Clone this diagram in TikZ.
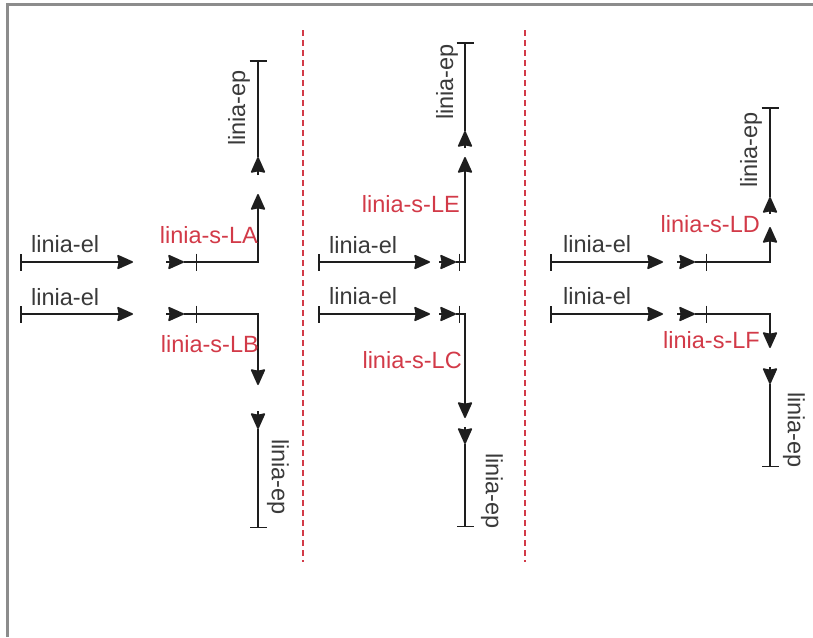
\documentclass[tikz,border=0pt]{standalone}
\usepackage{fontspec}
\setmainfont{Liberation Sans}
\usetikzlibrary{arrows.meta}
\definecolor{linec}{HTML}{1E1E1E}
\definecolor{txtc}{HTML}{3A3A3A}
\definecolor{redc}{HTML}{D23A48}
\definecolor{framec}{HTML}{8C8C8C}
\tikzset{
  cline/.style={draw=linec, line width=1.5pt},
  arrline/.style={cline, -{Stealth[length=17pt,width=15pt,inset=1.5pt,round]}},
  tickline/.style={cline, -{Bar[width=17pt]}},
  elline/.style={cline, {Bar[width=17pt]}-{Stealth[length=17pt,width=15pt,inset=1.5pt,round]}},
  lbl/.style={font=\fontsize{23.5}{27}\selectfont, text=txtc, inner sep=0pt},
  rlbl/.style={lbl, text=redc},
  sepline/.style={draw=redc, line width=1.3pt, dash pattern=on 6pt off 4pt},
  frameline/.style={draw=framec, line width=3pt}
}
\begin{document}
\begin{tikzpicture}[x=1pt,y=-1pt]
\useasboundingbox (0,0) rectangle (813,637);
\draw[frameline] (7,637) -- (7,4) -- (813,4);

% separators
\coordinate (d1a) at (303,30); \coordinate (d1b) at (303,562);
\coordinate (d2a) at (525,30); \coordinate (d2b) at (525,562);
\draw[sepline] (d1a) -- (d1b);
\draw[sepline] (d2a) -- (d2b);

% ---------- panel 1 ----------
\coordinate (p1s1) at (20,262);  \coordinate (p1e1) at (133,262);
\coordinate (p1a1) at (166,262); \coordinate (p1b1) at (184,262);
\coordinate (p1t1) at (197,262); \coordinate (p1u1) at (258,194);
\coordinate (p1q1) at (258,175); \coordinate (p1r1) at (258,157);
\coordinate (p1z1) at (258,60);
\coordinate (p1s2) at (20,314);  \coordinate (p1e2) at (133,314);
\coordinate (p1a2) at (166,314); \coordinate (p1b2) at (184,314);
\coordinate (p1t2) at (197,314); \coordinate (p1u2) at (258,385);
\coordinate (p1q2) at (258,411); \coordinate (p1r2) at (258,429);
\coordinate (p1z2) at (258,528);
\draw[elline] (p1s1) -- (p1e1);
\draw[arrline] (p1a1) -- (p1b1);
\draw[tickline] (p1b1) -- (p1t1);
\draw[arrline] (p1t1) -| (p1u1);
\draw[arrline] (p1q1) -- (p1r1);
\draw[tickline] (p1r1) -- (p1z1);
\draw[elline] (p1s2) -- (p1e2);
\draw[arrline] (p1a2) -- (p1b2);
\draw[tickline] (p1b2) -- (p1t2);
\draw[arrline] (p1t2) -| (p1u2);
\draw[arrline] (p1q2) -- (p1r2);
\draw[tickline] (p1r2) -- (p1z2);
\node[lbl,anchor=base west] (p1l1) at (31,252) {linia-el};
\node[lbl,anchor=base west] (p1l2) at (31,305) {linia-el};
\node[rlbl,anchor=base east] (p1LA) at (258,243) {linia-s-LA};
\node[rlbl,anchor=base east] (p1LB) at (259,352) {linia-s-LB};
\node[lbl,rotate=90] (p1ep1) at (239,108) {linia-ep};
\node[lbl,rotate=-90] (p1ep2) at (278,477) {linia-ep};

% ---------- panel 2 ----------
\coordinate (p2s1) at (318,262); \coordinate (p2e1) at (430,262);
\coordinate (p2a1) at (439,262); \coordinate (p2b1) at (456,262);
\coordinate (p2t1) at (460,262); \coordinate (p2u1) at (465,157);
\coordinate (p2q1) at (465,148); \coordinate (p2r1) at (465,131);
\coordinate (p2z1) at (465,42);
\coordinate (p2s2) at (318,314); \coordinate (p2e2) at (430,314);
\coordinate (p2a2) at (439,314); \coordinate (p2b2) at (456,314);
\coordinate (p2t2) at (460,314); \coordinate (p2u2) at (465,418);
\coordinate (p2q2) at (465,427); \coordinate (p2r2) at (465,444);
\coordinate (p2z2) at (465,527);
\draw[elline] (p2s1) -- (p2e1);
\draw[arrline] (p2a1) -- (p2b1);
\draw[tickline] (p2b1) -- (p2t1);
\draw[arrline] (p2t1) -| (p2u1);
\draw[arrline] (p2q1) -- (p2r1);
\draw[tickline] (p2r1) -- (p2z1);
\draw[elline] (p2s2) -- (p2e2);
\draw[arrline] (p2a2) -- (p2b2);
\draw[tickline] (p2b2) -- (p2t2);
\draw[arrline] (p2t2) -| (p2u2);
\draw[arrline] (p2q2) -- (p2r2);
\draw[tickline] (p2r2) -- (p2z2);
\node[lbl,anchor=base west] (p2l1) at (329,253) {linia-el};
\node[lbl,anchor=base west] (p2l2) at (329,304) {linia-el};
\node[rlbl,anchor=base east] (p2LE) at (460,212) {linia-s-LE};
\node[rlbl,anchor=base east] (p2LC) at (462,368) {linia-s-LC};
\node[lbl,rotate=90] (p2ep1) at (447,82) {linia-ep};
\node[lbl,rotate=-90] (p2ep2) at (492,491) {linia-ep};

% ---------- panel 3 ----------
\coordinate (p3s1) at (550,262); \coordinate (p3e1) at (663,262);
\coordinate (p3a1) at (677,262); \coordinate (p3b1) at (695,262);
\coordinate (p3t1) at (707,262); \coordinate (p3u1) at (770,227);
\coordinate (p3q1) at (770,214); \coordinate (p3r1) at (770,197);
\coordinate (p3z1) at (770,107);
\coordinate (p3s2) at (550,314); \coordinate (p3e2) at (663,314);
\coordinate (p3a2) at (677,314); \coordinate (p3b2) at (695,314);
\coordinate (p3t2) at (707,314); \coordinate (p3u2) at (770,348);
\coordinate (p3q2) at (770,367); \coordinate (p3r2) at (770,384);
\coordinate (p3z2) at (770,467);
\draw[elline] (p3s1) -- (p3e1);
\draw[arrline] (p3a1) -- (p3b1);
\draw[tickline] (p3b1) -- (p3t1);
\draw[arrline] (p3t1) -| (p3u1);
\draw[arrline] (p3q1) -- (p3r1);
\draw[tickline] (p3r1) -- (p3z1);
\draw[elline] (p3s2) -- (p3e2);
\draw[arrline] (p3a2) -- (p3b2);
\draw[tickline] (p3b2) -- (p3t2);
\draw[arrline] (p3t2) -| (p3u2);
\draw[arrline] (p3q2) -- (p3r2);
\draw[tickline] (p3r2) -- (p3z2);
\node[lbl,anchor=base west] (p3l1) at (563,252) {linia-el};
\node[lbl,anchor=base west] (p3l2) at (563,304) {linia-el};
\node[rlbl,anchor=base east] (p3LD) at (760,232) {linia-s-LD};
\node[rlbl,anchor=base east] (p3LF) at (760,348) {linia-s-LF};
\node[lbl,rotate=90] (p3ep1) at (751,150) {linia-ep};
\node[lbl,rotate=-90] (p3ep2) at (794,430) {linia-ep};
\end{tikzpicture}
\end{document}
